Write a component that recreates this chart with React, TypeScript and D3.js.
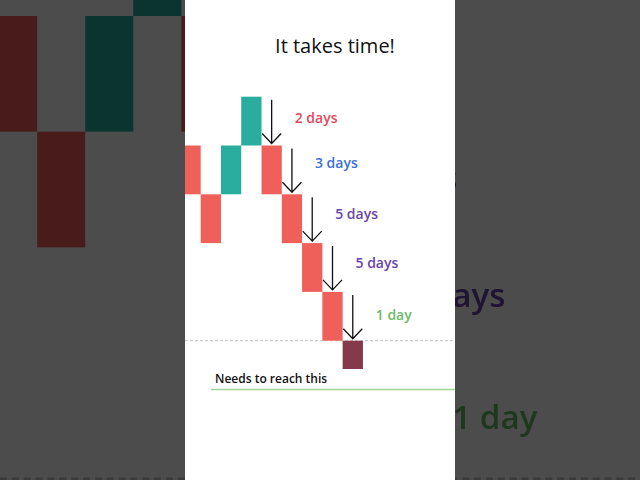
import React from "react";
import * as d3 from "d3";

// Renko-style bricks: column index, open, close (price units, brick size 1)
const brickCols = [0, 1, 2, 3, 4, 5, 6, 7, 8];
const brickOpen = [4, 3, 3, 4, 4, 3, 2, 1, 0];
const brickClose = [3, 2, 4, 5, 3, 2, 1, 0, -0.58];
const brickKind = ["down", "down", "up", "up", "down", "down", "down", "down", "live"];

// Arrows into columns with durations
const arrowCols = [4, 5, 6, 7, 8];
const arrowDays = ["2 days", "3 days", "5 days", "5 days", "1 day"];
const arrowLabelLevels = [4.56, 3.65, 2.6, 1.59, 0.53];
const arrowColors = ["#e2495a", "#3d6fd6", "#6a45a8", "#6a45a8", "#6dba6a"];

const zeroLevel = 0;
const targetLevel = -1;
const titleText = "It takes time!";
const targetText = "Needs to reach this";

const W = 640;
const H = 480;
const panelX = 185;
const panelW = 270;

const x = d3.scaleBand<number>().domain(d3.range(0, 12)).range([180.4, 180.4 + 20.28 * 12]).padding(0);
const y = d3.scaleLinear().domain([5, 0]).range([96.7, 340.7]);

const colorOf: Record<string, string> = {
  up: "#2aad9e",
  down: "#f0605a",
  live: "#843a4a",
};

const FONT = "'Open Sans', 'DejaVu Sans', sans-serif";

function Scene() {
  const bw = x.bandwidth();
  return (
    <g>
      <rect x={panelX} y={0} width={panelW} height={H} fill="#ffffff" />
      <text x={335} y={52.7} textAnchor="middle" fontFamily={FONT} fontSize={20} fontWeight={500} fill="#111">
        {titleText}
      </text>
      <line x1={panelX} x2={panelX + panelW} y1={y(zeroLevel)} y2={y(zeroLevel)} stroke="#c4c4c4" strokeWidth={1} strokeDasharray="3,2" />
      {brickCols.map((c, i) => {
        const top = y(Math.max(brickOpen[i], brickClose[i]));
        const bot = y(Math.min(brickOpen[i], brickClose[i]));
        return <rect key={i} x={x(c)} y={top} width={bw} height={bot - top} fill={colorOf[brickKind[i]]} />;
      })}
      {arrowCols.map((c, i) => {
        const idx = brickCols.indexOf(c);
        const prevTop = y(Math.max(brickOpen[idx - 1], brickClose[idx - 1]));
        const thisTop = y(Math.max(brickOpen[idx], brickClose[idx]));
        const cx = (x(c) as number) + bw / 2;
        const y1 = prevTop + 3;
        const y2 = thisTop - 2;
        const path = d3.path();
        path.moveTo(cx, y1);
        path.lineTo(cx, y2);
        path.moveTo(cx - 9.5, y2 - 10);
        path.lineTo(cx, y2);
        path.lineTo(cx + 9.5, y2 - 10);
        const ly = y(arrowLabelLevels[i]);
        return (
          <g key={i}>
            <path d={path.toString()} fill="none" stroke="#111" strokeWidth={1.3} />
            <text x={cx + 23} y={ly + 5} fontFamily={FONT} fontSize={14} fontWeight={600} fill={arrowColors[i]}>
              {arrowDays[i]}
            </text>
          </g>
        );
      })}
      <line x1={211} x2={panelX + panelW} y1={y(targetLevel)} y2={y(targetLevel)} stroke="#9fd49d" strokeWidth={1.5} />
      <text x={215} y={382.6} fontFamily={FONT} fontSize={12} fontWeight={600} fill="#111">
        {targetText}
      </text>
    </g>
  );
}

export default function App() {
  const s = W / panelW;
  return (
    <svg width={W} height={H} style={{ position: "fixed", left: 0, top: 0, display: "block" }}>
      <defs>
        <filter id="bl" x="-10%" y="-10%" width="120%" height="120%">
          <feGaussianBlur stdDeviation={0.7} />
        </filter>
        <clipPath id="panel">
          <rect x={panelX} y={0} width={panelW} height={H} />
        </clipPath>
      </defs>
      <rect x={0} y={0} width={W} height={H} fill="#ffffff" />
      <g filter="url(#bl)">
        <g transform={`translate(${W / 2},${H / 2}) scale(${s}) translate(${-W / 2},${-H / 2})`}>
          <Scene />
        </g>
      </g>
      <rect x={0} y={0} width={W} height={H} fill="#000" opacity={0.7} />
      <g clipPath="url(#panel)">
        <Scene />
      </g>
    </svg>
  );
}
